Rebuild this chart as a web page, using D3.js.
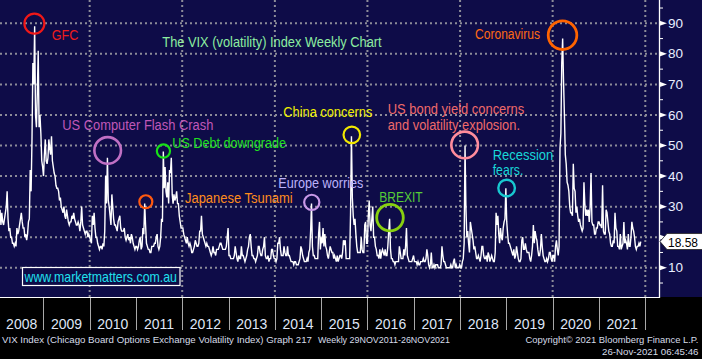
<!DOCTYPE html>
<html><head><meta charset="utf-8">
<script src="https://cdn.jsdelivr.net/npm/d3@7"></script>
<style>html,body{margin:0;padding:0;background:#000;}svg{display:block}</style>
</head><body>
<svg id="chart" width="702" height="359"></svg>
<script>
// ---------------- DATA ----------------
const years = [2008,2009,2010,2011,2012,2013,2014,2015,2016,2017,2018,2019,2020,2021];
const yearLabels = ["2008","2009","2010","2011","2012","2013","2014","2015","2016","2017","2018","2019","2020","2021"];
// weekly VIX readings (one per week, Fridays)
const vix2008 = [29,24,28,25,24,26, 28,30,35,26, 22,23,20,20, 18,18,17,18,17, 23,21,22,24, 26,28,25,23, 23,20,21,19,21, 25,26,42,35, 52,77,70,89,60, 56,67,81,56, 60,54,45,43];
const vix2009 = [40,47,52,45,44, 46,52,49,47, 53,45,43,41, 40,37,36,36, 35,32,33,30,29, 28,30,27,26, 29,27,25,24,25, 25,27,26,28, 26,25,24,24, 25,24,22,25,30, 24,23,22,21, 22,22,20,21];
const vix2010 = [20,19,18,27,24, 28,23,20,20, 18,17,16,17, 17,16,18,17,22, 40,31,46,32, 30,27,24,34, 30,26,24,24,23, 22,25,26,27, 23,22,22,22, 23,20,19,20,21, 19,20,18,21, 20,18,17,16,17];
const vix2011 = [17,16,17,19, 20,16,17,23, 21,31,24,18, 17,16,16,15,15, 17,17,17,18, 18,20,21,17, 16,17,20,26,25, 48,36,43,35, 33,38,31,42,41, 46,34,31,34, 32,33,35,31, 31,27,25,23,23];
const vix2012 = [23,21,20,19, 18,20,18,17, 18,17,15,15,16, 17,19,18,17, 17,18,22,22, 27,21,20,19,18, 17,18,17,17, 16,15,14,15,17, 15,15,14,16, 16,16,17,18, 18,17,16,16,16, 16,17,20,23];
const vix2013 = [14,14,13,13, 13,13,14,17, 15,13,12,14,13, 13,17,14,14, 13,12,13,14,16, 17,20,21,17, 14,14,13,13, 12,13,14,17,17, 15,14,14,16, 17,20,14,13, 13,14,12,13,13, 16,16,14,13];
const vix2014 = [13,12,13,18,18, 20,16,14,14, 14,17,15,14, 14,17,14,14, 13,12,12,12,11, 12,12,11,11, 11,12,13,17, 16,14,13,12,12, 12,13,12,15, 16,22,31,17,14, 14,13,13,13, 13,21,25,16];
const vix2015 = [20,18,23,17,21, 17,16,14,13, 15,17,16,15, 15,13,14,13, 12,14,12,13,14, 14,13,15,19, 18,19,13,13,13, 13,13,28,53, 33,27,24,26, 21,17,15,15,15, 15,20,16,15, 15,24,25,18];
const vix2016 = [18,27,32,24,22, 26,30,20,20, 17,16,14,14, 13,16,13,15,16, 15,14,16,14, 14,17,22,26, 16,13,13,12,12, 11,12,12,12, 12,17,15,13,13, 13,16,14,17, 23,14,13,12, 12,12,12,13,14];
const vix2017 = [12,12,12,11, 12,11,11,12, 12,12,13,12,12, 13,16,14,11, 10,11,15,10, 10,11,10,11,11, 11,10,10,10, 11,17,14,12, 12,11,10,10,10, 10,10,11,10, 10,12,13,10, 11,10,10,10,11];
const vix2018 = [10,10,12,13, 18,50,30,20, 22,18,15,25,23, 21,19,16,17, 15,13,13,14, 13,12,14,17,17, 14,13,13,14, 12,15,14,12,13, 14,13,12,12, 15,28,24,27, 21,18,23,20,19, 23,25,26,36];
const vix2019 = [25,21,18,18, 17,16,15,14, 16,13,14,17,15, 13,12,12,13, 19,20,16,16,18, 16,15,15,15, 13,12,14,17, 24,18,22,20,19, 16,14,14,16, 21,17,14,13, 12,12,13,12,13, 15,15,13,12];
const vix2020 = [14,14,12,17,19, 16,14,17,49, 54,77,85,71, 60,47,44,38, 37,35,30,28,28, 27,44,36,35, 28,30,27,25,26, 24,23,22,23, 38,31,27,29, 27,29,25,30,41, 25,24,24,21, 21,23,23,25];
const vix2021 = [25,24,24,23,37, 22,21,21,29, 28,25,22,21, 18,17,17,19,18, 28,23,22,17, 17,16,21,16, 17,18,25,18,19, 18,16,21,17, 17,20,25,23, 22,20,17,16,17, 17,18,17,18.58];
const yearSeries = [vix2008,vix2009,vix2010,vix2011,vix2012,vix2013,vix2014,vix2015,vix2016,vix2017,vix2018,vix2019,vix2020,vix2021];
const yTicks = [10,20,30,40,50,60,70,80,90];
const yMinorTicks = [5,15,25,35,45,55,65,75,85,95];
const lastValue = 18.58;
// event circles: [label, date, value]
const eventNames  = ["GFC","Flash","Debt","Tsunami","Europe","China","Bond","Brexit","Recession","Corona"];
const eventDates  = ["2008-10-22","2010-05-23","2011-08-06","2011-03-20","2014-10-19","2015-08-31","2018-02-06","2016-06-27","2019-01-03","2020-03-19"];
const eventValues = [89.9,48.4,48.2,31.6,31.4,53.5,50.2,26.4,36.1,86.1];

// ---------------- LAYOUT / STYLE ----------------
const W = 702, H = 359, plotBottom = 297, axisX = 659;
const navy = "#0e0c48";
const circleStyle = {
  GFC:{r:10,c:"#f01818",w:2.2}, Flash:{r:13.3,c:"#c070c4",w:2.6}, Debt:{r:6.6,c:"#18e018",w:2.2},
  Tsunami:{r:6.5,c:"#ff5a10",w:2.2}, Europe:{r:7.6,c:"#c898e8",w:2.2}, China:{r:8.3,c:"#f0e800",w:2.2},
  Bond:{r:13.3,c:"#ff8c9c",w:2.6}, Brexit:{r:13.3,c:"#88d010",w:2.8}, Recession:{r:8.3,c:"#18c8d0",w:2.4},
  Corona:{r:14.3,c:"#ff6400",w:2.8}
};
const labels = [
  {t:"The VIX (volatility) Index Weekly Chart", x:162.3, y:47, len:219.4, c:"#8ceea0"},
  {t:"GFC", x:51.7, y:40, len:26.6, c:"#f01c1c"},
  {t:"US Computer Flash Crash", x:62.3, y:129.5, len:151, c:"#c058b8"},
  {t:"US Debt downgrade", x:172.3, y:148, len:113.7, c:"#20e020"},
  {t:"Japanese Tsunami", x:185, y:203, len:107.7, c:"#ff8c1c"},
  {t:"Europe worries", x:278.3, y:188.3, len:85, c:"#bcb2fa"},
  {t:"China concerns", x:283.3, y:116.5, len:89, c:"#f0f000"},
  {t:"US bond yield concerns", x:387.7, y:114, len:136.6, c:"#f06a6a"},
  {t:"and volatility explosion.", x:387.7, y:129.5, len:132.3, c:"#f06a6a"},
  {t:"BREXIT", x:379.3, y:201.7, len:43.3, c:"#58cc38"},
  {t:"Recession", x:492.7, y:160, len:60.6, c:"#18d8d8"},
  {t:"fears.", x:492.7, y:175, len:30.6, c:"#18d8d8"},
  {t:"Coronavirus", x:475, y:39.3, len:65, c:"#ff6a14"}
];

// ---------------- SCALES ----------------
const x = d3.scaleTime().domain([new Date(2008,0,1), new Date(2022,0,1)]).range([-3, 645.3]);
const y = d3.scaleLinear().domain([0,90]).range([298.3, 23.3]);

// weekly points
const points = [];
years.forEach((yr, i) => {
  const start = yr === 2008 ? new Date(2008,0,25) : d3.timeFriday.ceil(new Date(yr,0,1));
  yearSeries[i].forEach((v, k) => points.push({d: d3.timeDay.offset(start, 7*k), v}));
});

const svg = d3.select("#chart");
svg.append("rect").attr("x",0).attr("y",0).attr("width",W).attr("height",plotBottom).attr("fill",navy);
svg.append("rect").attr("x",0).attr("y",plotBottom).attr("width",W).attr("height",H-plotBottom).attr("fill","#000");

// gridlines
const grid = svg.append("g").attr("stroke","#8c8c98").attr("stroke-width",2).attr("stroke-dasharray","2,3");
grid.selectAll("line.h").data(yTicks).join("line")
  .attr("x1",0).attr("x2",axisX).attr("y1",d=>y(d)).attr("y2",d=>y(d));
const vGrid = d3.timeYear.every(2).range(new Date(2010,0,1), new Date(2022,0,2));
grid.selectAll("line.v").data(vGrid).join("line")
  .attr("x1",d=>x(d)).attr("x2",d=>x(d)).attr("y1",0).attr("y2",plotBottom);

// data line
svg.append("path").datum(points)
  .attr("d", d3.line().x(d=>x(d.d)).y(d=>y(d.v)))
  .attr("fill","none").attr("stroke","#fff").attr("stroke-width",1.4).attr("stroke-linejoin","miter");

// event circles
svg.append("g").selectAll("circle").data(eventNames).join("circle")
  .attr("cx",(d,i)=>x(new Date(eventDates[i]+"T00:00:00")))
  .attr("cy",(d,i)=>y(eventValues[i]))
  .attr("r",d=>circleStyle[d].r).attr("fill","none")
  .attr("stroke",d=>circleStyle[d].c).attr("stroke-width",d=>circleStyle[d].w);

// labels
svg.append("g").attr("font-family","'Liberation Sans', Arial, sans-serif").attr("font-size",14)
  .selectAll("text").data(labels).join("text")
  .attr("x",d=>d.x).attr("y",d=>d.y).attr("fill",d=>d.c)
  .attr("textLength",d=>d.len).attr("lengthAdjust","spacingAndGlyphs").text(d=>d.t);

// website box
svg.append("rect").attr("x",22.5).attr("y",267.5).attr("width",157.5).attr("height",18)
  .attr("fill",navy).attr("stroke","#fff").attr("stroke-width",1.2);
svg.append("text").attr("x",24.5).attr("y",282.3).attr("fill","#20e0ee")
  .attr("font-family","'Liberation Sans', Arial, sans-serif").attr("font-size",14.5)
  .attr("textLength",152.5).attr("lengthAdjust","spacingAndGlyphs").text("www.marketmatters.com.au");

// bottom line of plot
svg.append("line").attr("x1",0).attr("x2",axisX).attr("y1",plotBottom+0.5).attr("y2",plotBottom+0.5).attr("stroke","#fff").attr("stroke-width",1);

// right axis
svg.append("line").attr("x1",axisX+0.5).attr("x2",axisX+0.5).attr("y1",0).attr("y2",plotBottom+1).attr("stroke","#fff").attr("stroke-width",1.3);
const ax = svg.append("g");
ax.selectAll("path.tri").data(yTicks).join("path")
  .attr("d",d=>`M${axisX},${y(d)-2.8}L${axisX+8},${y(d)}L${axisX},${y(d)+2.8}Z`).attr("fill","#fff");
ax.selectAll("line.mn").data(yMinorTicks).join("line")
  .attr("x1",axisX).attr("x2",axisX+4).attr("y1",d=>y(d)).attr("y2",d=>y(d)).attr("stroke","#fff").attr("stroke-width",1);
// the label next to the current value tag is hidden behind it in the reference
const ly = y(lastValue);
ax.selectAll("text").data(yTicks.filter(d => Math.abs(y(d) - ly) > 10)).join("text")
  .attr("x",668).attr("y",d=>y(d)+4.6).attr("fill","#e8eeff")
  .attr("font-family","'Liberation Sans', Arial, sans-serif").attr("font-size",13.5).text(d=>d);

// last value tag
svg.append("path").attr("d",`M660,${ly}L667,${ly-8}L703,${ly-8}L703,${ly+8}L667,${ly+8}Z`)
  .attr("fill","#fff").attr("stroke","#222").attr("stroke-width",0.8);
svg.append("text").attr("x",668).attr("y",ly+5).attr("fill","#000")
  .attr("font-family","'Liberation Sans', Arial, sans-serif").attr("font-size",13.5)
  .attr("textLength",30).attr("lengthAdjust","spacingAndGlyphs").text(lastValue.toFixed(2));

// year separators and labels
const yearStarts = d3.timeYear.range(new Date(2009,0,1), new Date(2022,0,2));
svg.append("g").selectAll("line").data(yearStarts).join("line")
  .attr("x1",d=>Math.round(x(d))+0.5).attr("x2",d=>Math.round(x(d))+0.5).attr("y1",plotBottom+1).attr("y2",330)
  .attr("stroke","#a8a8a8").attr("stroke-width",1);
svg.append("g").selectAll("text").data(yearLabels).join("text")
  .attr("x",(d,i)=>{const a=Math.max(0,x(new Date(years[i],0,1))); const b=x(new Date(years[i]+1,0,1)); return (a+b)/2;})
  .attr("y",329).attr("text-anchor","middle").attr("fill","#dfe6f6")
  .attr("font-family","'Liberation Sans', Arial, sans-serif").attr("font-size",14).text(d=>d);

// footer texts
const foot = svg.append("g").attr("font-family","'Liberation Sans', Arial, sans-serif").attr("font-size",9).attr("fill","#d6dce8");
foot.append("text").attr("x",2).attr("y",343).attr("textLength",310).attr("lengthAdjust","spacingAndGlyphs")
  .text("VIX Index (Chicago Board Options Exchange Volatility Index) Graph 217");
foot.append("text").attr("x",318).attr("y",343).attr("textLength",132).attr("lengthAdjust","spacingAndGlyphs")
  .text("Weekly 29NOV2011-26NOV2021");
foot.append("text").attr("x",525.5).attr("y",343).attr("textLength",173).attr("lengthAdjust","spacingAndGlyphs")
  .text("Copyright\u00A9 2021 Bloomberg Finance L.P.");
foot.append("text").attr("x",602).attr("y",355).attr("textLength",96.5).attr("lengthAdjust","spacingAndGlyphs")
  .text("26-Nov-2021 06:45:46");
</script>
</body></html>
